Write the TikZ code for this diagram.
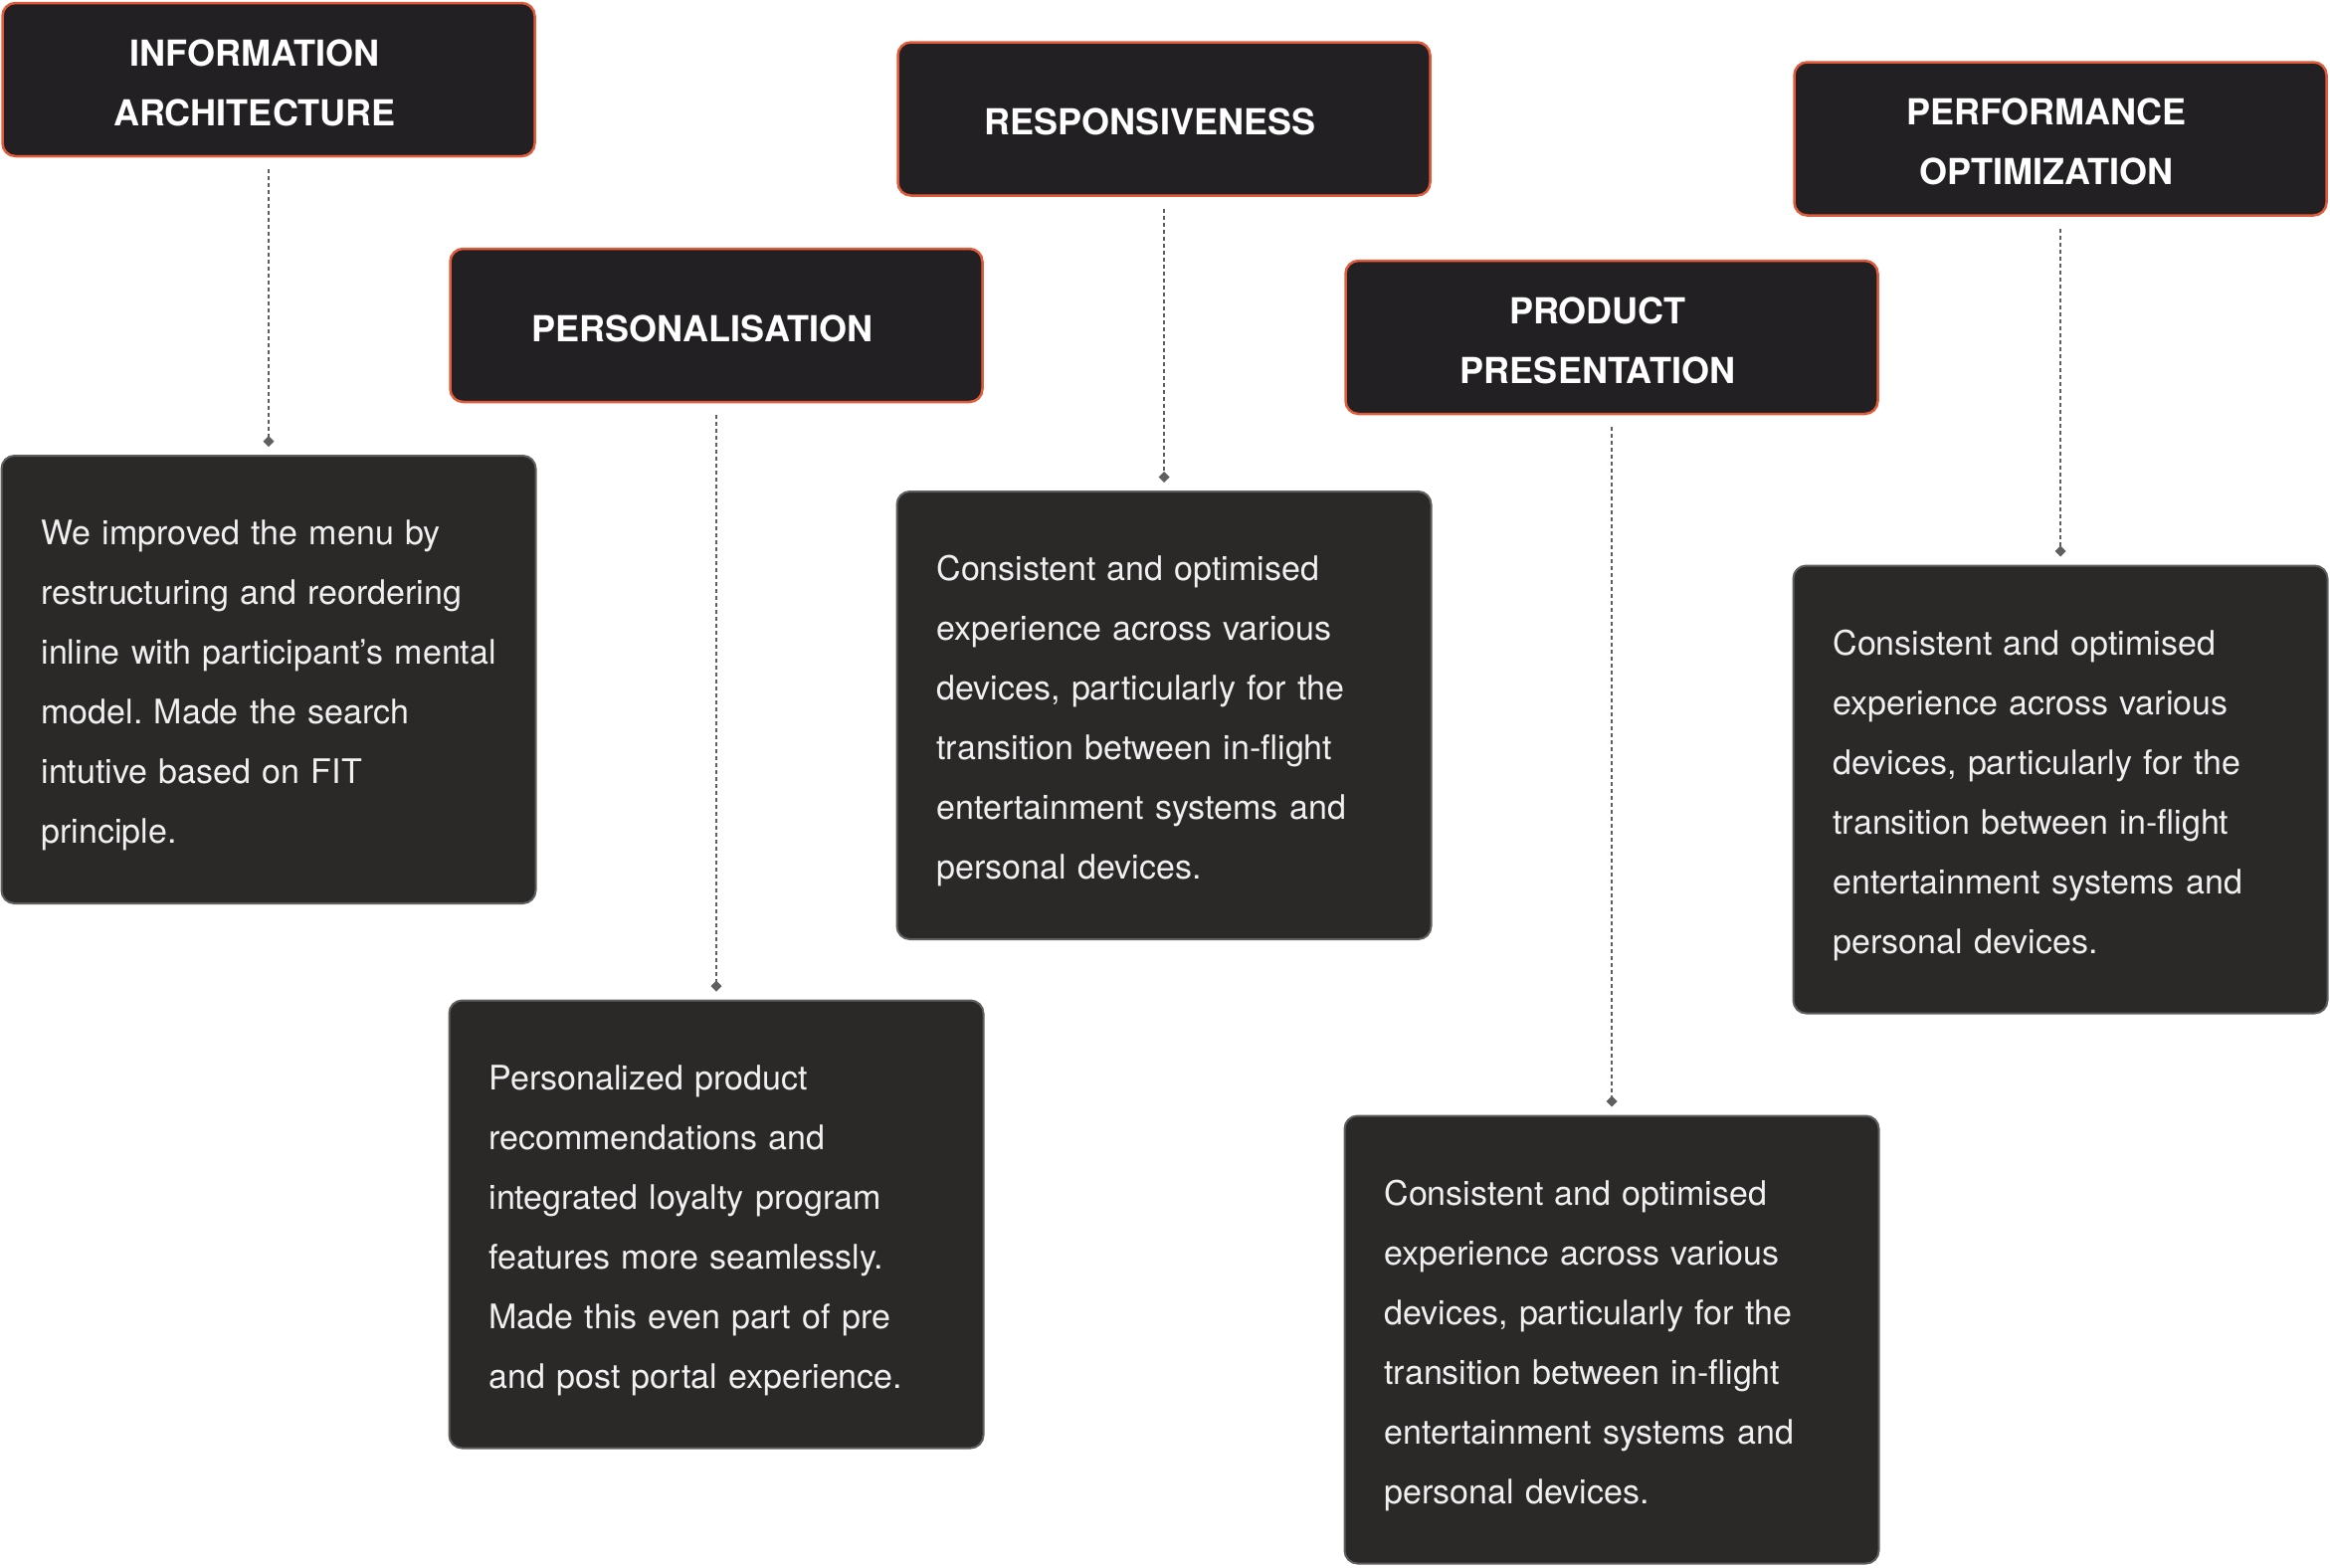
\documentclass[tikz,border=0pt]{standalone}
\usepackage{fontspec}
\setmainfont{TeX Gyre Heros}
\usetikzlibrary{arrows.meta}
\frenchspacing
\definecolor{headfill}{HTML}{232023}
\definecolor{headline}{HTML}{E05B3B}
\definecolor{boxfill}{HTML}{2B2828}
\definecolor{boxline}{HTML}{5E5E5E}
\definecolor{linkgray}{HTML}{5F5F5F}
\newcommand{\ttltext}[1]{\begin{tabular}{@{}c@{\hspace{28pt}}}\rule{0pt}{50pt}#1\end{tabular}}

\begin{document}
\begin{tikzpicture}[x=1pt,y=-1pt]

\tikzset{TitleStyle/.style = {draw=headline, line width=2.5pt, fill=headfill,
            rounded corners=13pt, minimum width=535pt, minimum height=154pt,
            inner sep=0pt, text=white,
            font=\fontsize{36}{60}\selectfont\bfseries},
         BoxStyle/.style = {draw=boxline, line width=2pt, fill=boxfill,
            rounded corners=13pt, minimum height=450pt, text width=457pt,
            inner xsep=40pt, inner ysep=0pt, align=left, text=white!94!black,
            font=\fontsize{34}{60}\selectfont,
            execute at begin node=\rule{0pt}{37pt}},
         LinkStyle/.style = {draw=linkgray, line width=1.8pt,
            dash pattern=on 4pt off 3pt, shorten <=12pt, shorten >=8pt,
            -{Diamond[length=11pt,width=11pt]}}}

\useasboundingbox (0,0) rectangle (2342,1575);

\node[TitleStyle] (t1) at (270,80)    {\ttltext{INFORMATION\\ARCHITECTURE}};
\node[TitleStyle] (t2) at (720,327)   {\ttltext{PERSONALISATION}};
\node[TitleStyle] (t3) at (1170,119.5){\ttltext{RESPONSIVENESS}};
\node[TitleStyle] (t4) at (1620,339)  {\ttltext{PRODUCT\\PRESENTATION}};
\node[TitleStyle] (t5) at (2071,139.5){\ttltext{PERFORMANCE\\OPTIMIZATION}};

\node[BoxStyle] (d1) at (270,683) {We improved the menu by\\restructuring and reordering\\inline with participant’s mental\\model. Made the search\\intutive based on FIT\\principle.};
\node[BoxStyle] (d2) at (720,1230.5) {Personalized product\\recommendations and\\integrated loyalty program\\features more seamlessly.\\Made this even part of pre\\and post portal experience.};
\node[BoxStyle] (d3) at (1170,719) {Consistent and optimised\\experience across various\\devices, particularly for the\\transition between in-flight\\entertainment systems and\\personal devices.};
\node[BoxStyle] (d4) at (1620,1346.5) {Consistent and optimised\\experience across various\\devices, particularly for the\\transition between in-flight\\entertainment systems and\\personal devices.};
\node[BoxStyle] (d5) at (2071,793.5) {Consistent and optimised\\experience across various\\devices, particularly for the\\transition between in-flight\\entertainment systems and\\personal devices.};

\draw[LinkStyle] (t1) -- (d1);
\draw[LinkStyle] (t2) -- (d2);
\draw[LinkStyle] (t3) -- (d3);
\draw[LinkStyle] (t4) -- (d4);
\draw[LinkStyle] (t5) -- (d5);

\end{tikzpicture}
\end{document}
